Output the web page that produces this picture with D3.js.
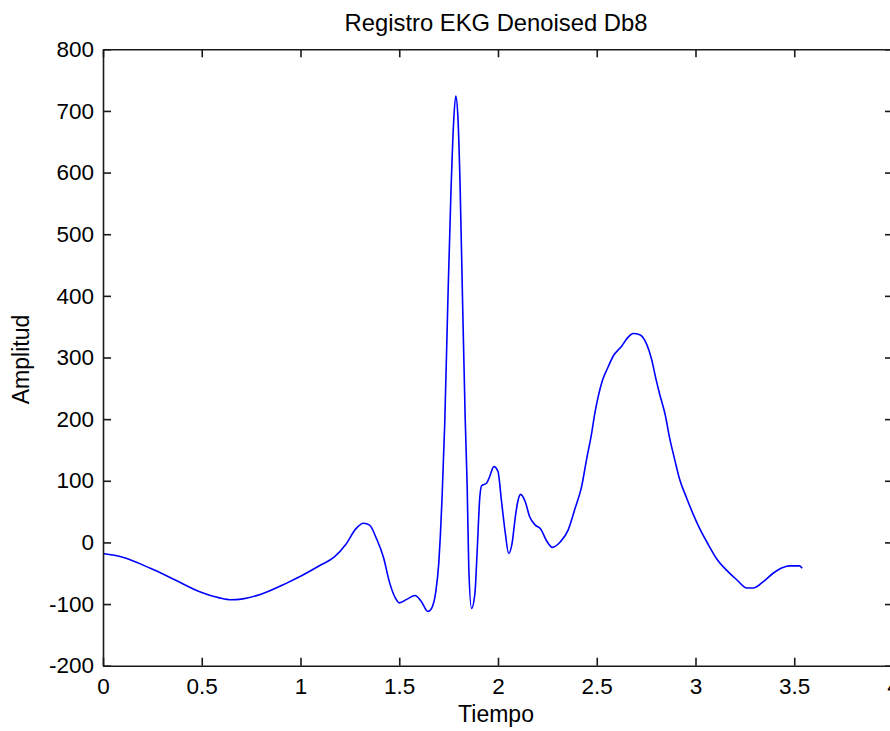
<!DOCTYPE html>
<html>
<head>
<meta charset="utf-8">
<script src="https://cdn.jsdelivr.net/npm/d3@7"></script>
<style>
  body { margin: 0; background: #fff; }
  svg text { font-family: "Liberation Sans", Arial, sans-serif; fill: #000; }
  .axis path, .axis line { stroke: #1a1a1a; stroke-width: 1.6; }
</style>
</head>
<body>
<div id="chart"></div>
<script>
var tiempo = [0.00, 0.10, 0.24, 0.36, 0.49, 0.59, 0.65, 0.70, 0.80, 0.93,
  1.00, 1.10, 1.17, 1.23, 1.28, 1.32, 1.35, 1.385, 1.42, 1.45,
  1.48, 1.50, 1.54, 1.58, 1.61, 1.645, 1.665, 1.685, 1.70, 1.708,
  1.717, 1.73, 1.746, 1.761, 1.775, 1.786, 1.797, 1.808, 1.82, 1.834,
  1.844, 1.852, 1.866, 1.883, 1.894, 1.908, 1.917, 1.942, 1.958, 1.979,
  2.00, 2.017, 2.037, 2.054, 2.071, 2.088, 2.10, 2.114, 2.138, 2.16,
  2.189, 2.215, 2.249, 2.275, 2.316, 2.355, 2.39, 2.423, 2.448, 2.474,
  2.49, 2.507, 2.529, 2.558, 2.583, 2.625, 2.659, 2.684, 2.718, 2.752,
  2.777, 2.802, 2.819, 2.846, 2.87, 2.895, 2.92, 2.954, 2.988, 3.022,
  3.064, 3.106, 3.157, 3.21, 3.26, 3.292, 3.342, 3.393, 3.433, 3.475,
  3.527, 3.54];

// amplitud correspondiente
var amplitud = [-18, -24, -42, -60, -80, -90, -93, -92, -84, -66,
  -55, -37, -24, -3, 22, 31, 28, 6, -24, -64,
  -90, -98, -92, -86, -95, -112, -106, -80, -34, 10,
  74, 190, 390, 560, 680, 724, 690, 580, 400, 200,
  90, -40, -107, -83, -18, 74, 92, 96, 107, 123,
  115, 69, 15, -18, -2, 42, 66, 78, 66, 42,
  28, 22, 1, -8, 1, 20, 55, 90, 134, 177,
  209, 236, 263, 285, 302, 318, 333, 339, 337, 322,
  298, 262, 240, 208, 168, 134, 102, 73, 46, 22,
  -3, -26, -45, -61, -74, -74, -64, -50, -42, -38,
  -38, -42];

var xTicks = [0, 0.5, 1, 1.5, 2, 2.5, 3, 3.5, 4];
var yTicks = [-200, -100, 0, 100, 200, 300, 400, 500, 600, 700, 800];

var width = 890,
    height = 731,
    margin = {top: 49.3, left: 103, right: -3, bottom: 65.3},
    w = width - margin.left - margin.right,
    h = height - margin.top - margin.bottom;

var x = d3.scaleLinear().domain([0, 4]).range([0, w]),
    y = d3.scaleLinear().domain([-200, 800]).range([h, 0]);

var svg = d3.select("#chart").append("svg")
    .attr("width", width)
    .attr("height", height);

var g = svg.append("g")
    .attr("transform", "translate(" + margin.left + "," + margin.top + ")");

var datos = tiempo.map(function(t, i) { return [t, amplitud[i]]; });

var linea = d3.line()
    .x(function(d) { return x(d[0]); })
    .y(function(d) { return y(d[1]); })
    .curve(d3.curveMonotoneX);

g.append("path")
    .datum(datos)
    .attr("d", linea)
    .style("fill", "none")
    .style("stroke", "#0000ff")
    .style("stroke-width", 1.6);

// ejes (estilo matlab, ticks hacia dentro)
var fmt = function(d) { return String(d); };

g.append("g").attr("class", "axis")
    .attr("transform", "translate(0," + h + ")")
    .call(d3.axisBottom(x).tickValues(xTicks).tickFormat(fmt)
      .tickSizeInner(-8).tickSizeOuter(0).tickPadding(12));

g.append("g").attr("class", "axis")
    .call(d3.axisLeft(y).tickValues(yTicks).tickFormat(fmt)
      .tickSizeInner(-8).tickSizeOuter(0).tickPadding(9));

g.append("g").attr("class", "axis")
    .call(d3.axisTop(x).tickValues(xTicks).tickFormat("")
      .tickSizeInner(-8).tickSizeOuter(0));

g.append("g").attr("class", "axis")
    .attr("transform", "translate(" + w + ",0)")
    .call(d3.axisRight(y).tickValues(yTicks).tickFormat("")
      .tickSizeInner(-8).tickSizeOuter(0));

g.selectAll(".axis text")
    .style("font-size", "22.5px")
    .style("font-family", "'Liberation Sans', Arial, sans-serif")
    .style("fill", "#000");

// textos
svg.append("text")
    .attr("x", margin.left + w / 2 - 2)
    .attr("y", 31)
    .attr("text-anchor", "middle")
    .style("font-size", "23.8px")
    .text("Registro EKG Denoised Db8");

svg.append("text")
    .attr("x", margin.left + w / 2 - 2)
    .attr("y", 722)
    .attr("text-anchor", "middle")
    .style("font-size", "23px")
    .text("Tiempo");

svg.append("text")
    .attr("transform", "translate(29," + (margin.top + h / 2 + 2) + ") rotate(-90)")
    .attr("text-anchor", "middle")
    .style("font-size", "23px")
    .text("Amplitud");
</script>
</body>
</html>
